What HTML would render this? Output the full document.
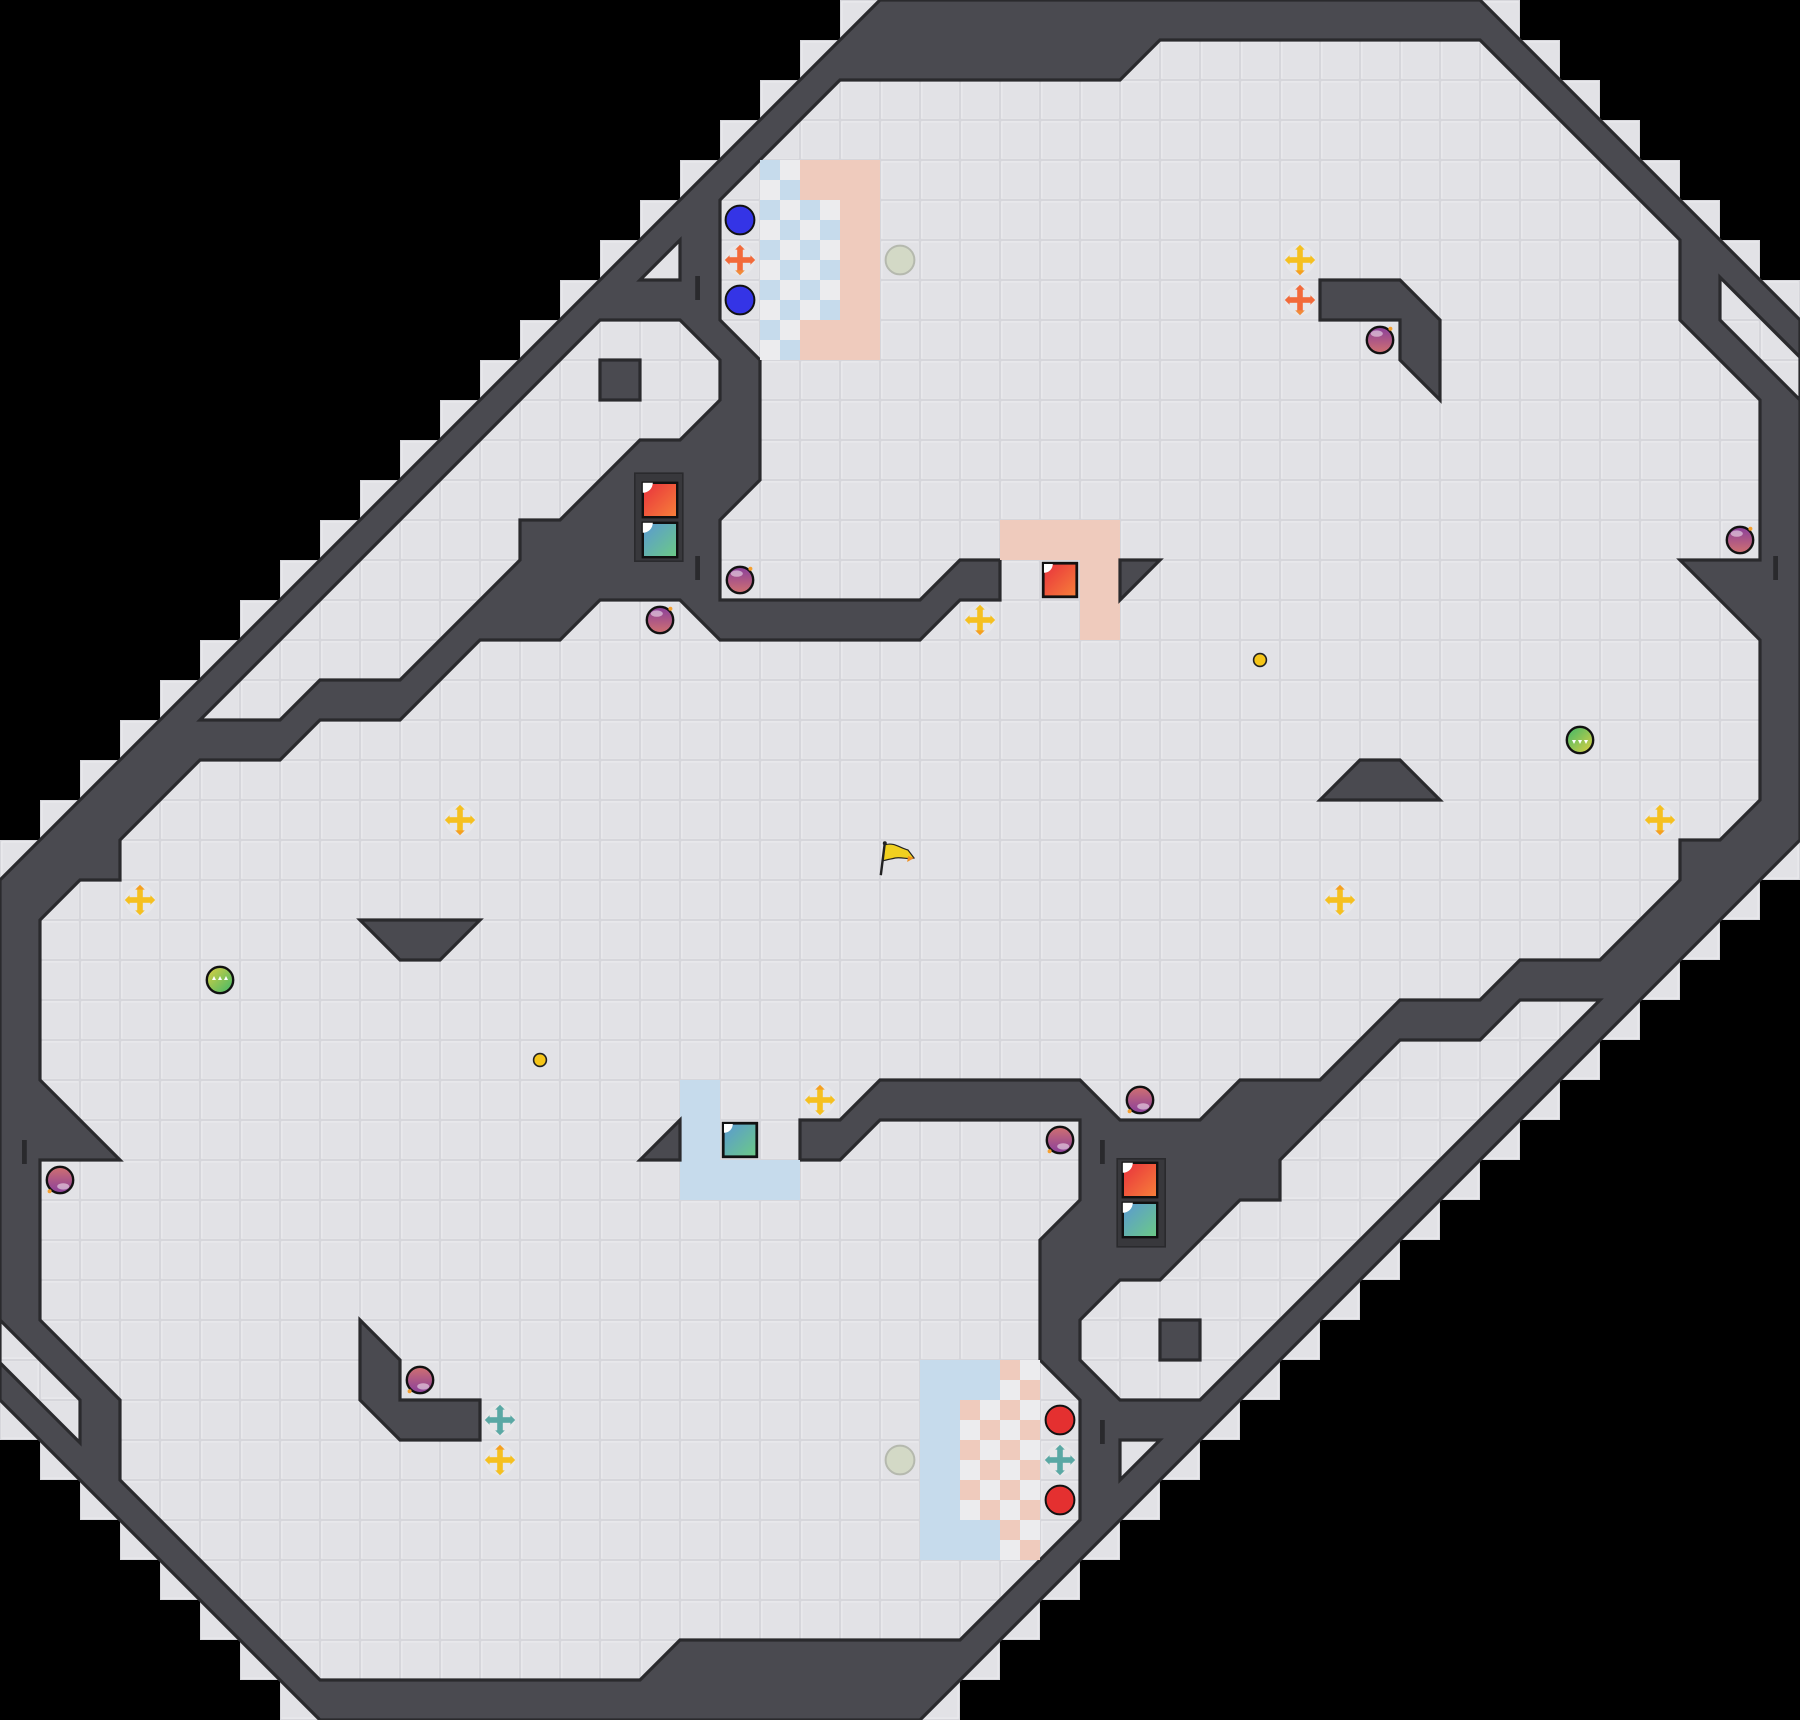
<!DOCTYPE html>
<html><head><meta charset="utf-8"><style>
html,body{margin:0;padding:0;background:#000;}
svg{display:block;}
</style></head><body>
<svg width="1800" height="1720" viewBox="0 0 45 43" xmlns="http://www.w3.org/2000/svg">
<defs>
<pattern id="g" width="1" height="1" patternUnits="userSpaceOnUse">
<rect width="1" height="1" fill="#d6d6db"/>
<rect x="0.03" y="0.03" width="0.94" height="0.94" fill="#ececef"/>
<rect x="0.06" y="0.06" width="0.9" height="0.9" fill="#e2e2e6"/>
</pattern>
<pattern id="cb" width="1" height="1" patternUnits="userSpaceOnUse">
<rect width="1" height="1" fill="#ececee"/>
<rect width="0.5" height="0.5" fill="#c6dbec"/>
<rect x="0.5" y="0.5" width="0.5" height="0.5" fill="#c6dbec"/>
</pattern>
<pattern id="cr" width="1" height="1" patternUnits="userSpaceOnUse">
<rect width="1" height="1" fill="#ececee"/>
<rect width="0.5" height="0.5" fill="#efcbbd"/>
<rect x="0.5" y="0.5" width="0.5" height="0.5" fill="#efcbbd"/>
</pattern>
<linearGradient id="gr" x1="0" y1="0" x2="1" y2="1"><stop offset="0" stop-color="#e8303c"/><stop offset="1" stop-color="#f7813a"/></linearGradient>
<linearGradient id="gt" x1="0" y1="0" x2="1" y2="1"><stop offset="0" stop-color="#5a98d4"/><stop offset="1" stop-color="#6ccb84"/></linearGradient>
<linearGradient id="gbomb" x1="0" y1="0" x2="0" y2="1"><stop offset="0" stop-color="#8a3f9c"/><stop offset="1" stop-color="#d07070"/></linearGradient>
<linearGradient id="ggreen" x1="0" y1="0" x2="1" y2="1"><stop offset="0" stop-color="#3cb86a"/><stop offset="1" stop-color="#e0d040"/></linearGradient>

<g id="stairs">
<polygon fill="url(#g)" points="22,0 21,0 21,1 20,1 20,2 19,2 19,3 18,3 18,4 17,4 17,5 16,5 16,6 15,6 15,7 14,7 14,8 13,8 13,9 12,9 12,10 11,10 11,11 10,11 10,12 9,12 9,13 8,13 8,14 7,14 7,15 6,15 6,16 5,16 5,17 4,17 4,18 3,18 3,19 2,19 2,20 1,20 1,21 0,21 0,22"/>
<polygon fill="url(#g)" points="37,0 38,0 38,1 39,1 39,2 40,2 40,3 41,3 41,4 42,4 42,5 43,5 43,6 44,6 44,7 45,7 45,8"/>
</g>
<g id="floors" fill="url(#g)" stroke="#2a2a2d" stroke-width="0.08" stroke-linejoin="miter">
<polygon points="15,8 17,8 18,9 18,10 17,11 16,11 14,13 13,13 13,14 10,17 8,17 7,18 5,18"/>
<polygon points="17,6 17,7 16,7"/>
<polygon points="43,6.93 45,8.93 45,10 43,8"/>
</g>
<g id="islands" fill="#4a4a50" stroke="#2a2a2d" stroke-width="0.08">
<rect x="15" y="9" width="1" height="1"/>
<polygon points="28,14 29,14 28,15"/>
<polygon points="33,7 35,7 36,8 36,10 35,9 35,8 33,8"/>
<polygon points="34,19 35,19 36,20 33,20"/>
<rect x="17.38" y="6.9" width="0.12" height="0.6" stroke="none" fill="#2a2a2d"/>
<rect x="17.38" y="13.9" width="0.12" height="0.6" stroke="none" fill="#2a2a2d"/>
<rect x="44.33" y="13.9" width="0.12" height="0.6" stroke="none" fill="#2a2a2d"/>
</g>
<g id="bomb">
<circle r="0.33" fill="url(#gbomb)" stroke="#111" stroke-width="0.06"/>
<ellipse cx="-0.08" cy="-0.16" rx="0.15" ry="0.08" fill="#fff" opacity="0.5"/>
<circle cx="0.26" cy="-0.28" r="0.05" fill="#f5a030"/>
</g>
<g id="yboost">
<circle r="0.38" fill="#e9e9ea" opacity="0.8"/>
<rect x="-0.3" y="-0.07" width="0.6" height="0.14" fill="#f5c020"/>
<rect x="-0.07" y="-0.3" width="0.14" height="0.6" fill="#f5c020"/>
<polygon points="-0.38,0 -0.26,-0.12 -0.26,0.12" fill="#f5c020"/>
<polygon points="0.38,0 0.26,-0.12 0.26,0.12" fill="#f5c020"/>
<polygon points="0,-0.38 -0.12,-0.26 0.12,-0.26" fill="#f5c020"/>
<polygon points="0,0.38 -0.12,0.26 0.12,0.26" fill="#f5a020"/>
</g>
<g id="oboost">
<circle r="0.38" fill="#e9e9ea" opacity="0.8"/>
<rect x="-0.3" y="-0.07" width="0.6" height="0.14" fill="#f26a3a"/>
<rect x="-0.07" y="-0.3" width="0.14" height="0.6" fill="#f26a3a"/>
<polygon points="-0.38,0 -0.26,-0.12 -0.26,0.12" fill="#f26a3a"/>
<polygon points="0.38,0 0.26,-0.12 0.26,0.12" fill="#f26a3a"/>
<polygon points="0,-0.38 -0.12,-0.26 0.12,-0.26" fill="#f26a3a"/>
<polygon points="0,0.38 -0.12,0.26 0.12,0.26" fill="#f28a3a"/>
</g>
<g id="tboost">
<circle r="0.38" fill="#e9e9ea" opacity="0.8"/>
<rect x="-0.3" y="-0.07" width="0.6" height="0.14" fill="#5aa8a4"/>
<rect x="-0.07" y="-0.3" width="0.14" height="0.6" fill="#5aa8a4"/>
<polygon points="-0.38,0 -0.26,-0.12 -0.26,0.12" fill="#5aa8a4"/>
<polygon points="0.38,0 0.26,-0.12 0.26,0.12" fill="#5aa8a4"/>
<polygon points="0,-0.38 -0.12,-0.26 0.12,-0.26" fill="#5aa8a4"/>
<polygon points="0,0.38 -0.12,0.26 0.12,0.26" fill="#5aa8a4"/>
</g>
<g id="green">
<circle r="0.33" fill="url(#ggreen)" stroke="#111" stroke-width="0.06"/>
<polygon points="-0.2,0 -0.1,0 -0.15,0.1" fill="#fff"/>
<polygon points="-0.05,0 0.05,0 0,0.1" fill="#fff"/>
<polygon points="0.1,0 0.2,0 0.15,0.1" fill="#fff"/>
</g>
<g id="neutral">
<use href="#bomb" x="34.5" y="8.5"/>
<use href="#bomb" x="43.5" y="13.5"/>
<use href="#bomb" x="18.5" y="14.5"/>
<use href="#bomb" x="16.5" y="15.5"/>
<use href="#yboost" x="32.5" y="6.5"/>
<use href="#yboost" x="24.5" y="15.5"/>
<use href="#yboost" x="41.5" y="20.5"/>
<use href="#yboost" x="11.5" y="20.5"/>
<circle cx="31.5" cy="16.5" r="0.16" fill="#f5c518" stroke="#222" stroke-width="0.04"/>
<use href="#green" x="39.5" y="18.5"/>
<circle cx="22.5" cy="6.5" r="0.36" fill="#d3d9c6" stroke="#b5b9ae" stroke-width="0.05"/>
</g>
</defs>

<!-- stairs -->
<use href="#stairs"/>
<use href="#stairs" transform="rotate(180 22.5 21.5)"/>
<!-- wall octagon -->
<polygon points="22,0 37,0 45,8 45,21 23,43 8,43 0,35 0,22" fill="#4a4a50" stroke="#2a2a2d" stroke-width="0.08"/>
<!-- main floor -->
<polygon fill="url(#g)" stroke="#2a2a2d" stroke-width="0.08" points="1,23 2,22 3,22 3,21 5,19 7,19 8,18 10,18 12,16 14,16 15,15 17,15 18,16 23,16 24,15 25,15 25,14 24,14 23,15 18,15 18,13 19,12 19,9 18,8 18,5 21,2 28,2 29,1 37,1 42,6 42,8 44,10 44,14 42,14 44,16 44,20 43,21 42,21 42,22 40,24 38,24 37,25 35,25 33,27 31,27 30,28 28,28 27,27 22,27 21,28 20,28 20,29 21,29 22,28 27,28 27,30 26,31 26,34 27,35 27,38 24,41 17,41 16,42 8,42 3,37 3,35 1,33 1,29 3,29 1,27"/>
<use href="#floors"/>
<use href="#floors" transform="rotate(180 22.5 21.5)"/>

<!-- team tiles top -->
<g>
<rect x="20" y="4" width="1" height="1" fill="#efcbbd"/>
<rect x="21" y="4" width="1" height="5" fill="#efcbbd"/>
<rect x="20" y="8" width="1" height="1" fill="#efcbbd"/>
<rect x="25" y="13" width="3" height="1" fill="#efcbbd"/>
<rect x="27" y="14" width="1" height="2" fill="#efcbbd"/>
<rect x="19" y="4" width="1" height="5" fill="url(#cb)"/>
<rect x="20" y="5" width="1" height="3" fill="url(#cb)"/>
</g>
<g transform="rotate(180 22.5 21.5)">
<rect x="20" y="4" width="1" height="1" fill="#c6dbec"/>
<rect x="21" y="4" width="1" height="5" fill="#c6dbec"/>
<rect x="20" y="8" width="1" height="1" fill="#c6dbec"/>
<rect x="25" y="13" width="3" height="1" fill="#c6dbec"/>
<rect x="27" y="14" width="1" height="2" fill="#c6dbec"/>
<rect x="19" y="4" width="1" height="5" fill="url(#cr)"/>
<rect x="20" y="5" width="1" height="3" fill="url(#cr)"/>
</g>

<use href="#islands"/>
<use href="#islands" transform="rotate(180 22.5 21.5)"/>

<!-- gates -->
<rect x="15.87" y="11.83" width="1.2" height="2.2" fill="#38383c" stroke="#2a2a2d" stroke-width="0.04"/>
<rect x="16.07" y="12.07" width="0.86" height="0.86" fill="url(#gr)" stroke="#111" stroke-width="0.06"/>
<rect x="16.07" y="13.07" width="0.86" height="0.86" fill="url(#gt)" stroke="#111" stroke-width="0.06"/>
<path d="M16.07,12.07 h0.25 a0.25,0.25 0 0 1 -0.25,0.25 z" fill="#fff"/>
<path d="M16.07,13.07 h0.25 a0.25,0.25 0 0 1 -0.25,0.25 z" fill="#fff"/>
<rect x="27.93" y="28.97" width="1.2" height="2.2" fill="#38383c" stroke="#2a2a2d" stroke-width="0.04"/>
<rect x="28.07" y="29.07" width="0.86" height="0.86" fill="url(#gr)" stroke="#111" stroke-width="0.06"/>
<rect x="28.07" y="30.07" width="0.86" height="0.86" fill="url(#gt)" stroke="#111" stroke-width="0.06"/>
<path d="M28.07,29.07 h0.25 a0.25,0.25 0 0 1 -0.25,0.25 z" fill="#fff"/>
<path d="M28.07,30.07 h0.25 a0.25,0.25 0 0 1 -0.25,0.25 z" fill="#fff"/>

<!-- flag boxes -->
<rect x="26.08" y="14.08" width="0.84" height="0.84" fill="url(#gr)" stroke="#111" stroke-width="0.07"/>
<path d="M26.1,14.1 h0.22 a0.22,0.22 0 0 1 -0.22,0.22 z" fill="#fff"/>
<rect x="18.08" y="28.08" width="0.84" height="0.84" fill="url(#gt)" stroke="#111" stroke-width="0.07"/>
<path d="M18.1,28.1 h0.22 a0.22,0.22 0 0 1 -0.22,0.22 z" fill="#fff"/>

<!-- team items -->
<circle cx="18.5" cy="5.5" r="0.36" fill="#3434e6" stroke="#111" stroke-width="0.05"/>
<circle cx="18.5" cy="7.5" r="0.36" fill="#3434e6" stroke="#111" stroke-width="0.05"/>
<use href="#oboost" x="18.5" y="6.5"/>
<use href="#oboost" x="32.5" y="7.5"/>
<circle cx="26.5" cy="35.5" r="0.36" fill="#e43030" stroke="#111" stroke-width="0.05"/>
<circle cx="26.5" cy="37.5" r="0.36" fill="#e43030" stroke="#111" stroke-width="0.05"/>
<use href="#tboost" x="26.5" y="36.5"/>
<use href="#tboost" x="12.5" y="35.5"/>

<use href="#neutral"/>
<use href="#neutral" transform="rotate(180 22.5 21.5)"/>

<!-- center flag -->
<g>
<line x1="22.12" y1="21.08" x2="22.02" y2="21.88" stroke="#222" stroke-width="0.06"/>
<circle cx="22.12" cy="21.08" r="0.05" fill="#222"/>
<path d="M22.13,21.12 C22.35,21.05 22.5,21.2 22.7,21.25 L22.85,21.45 C22.7,21.5 22.55,21.42 22.38,21.45 C22.25,21.48 22.15,21.5 22.08,21.52 Z" fill="#f0d020" stroke="#222" stroke-width="0.03"/>
<path d="M22.7,21.4 L22.85,21.45 L22.68,21.55 Z" fill="#f09020"/>
</g>
</svg>
</body></html>
